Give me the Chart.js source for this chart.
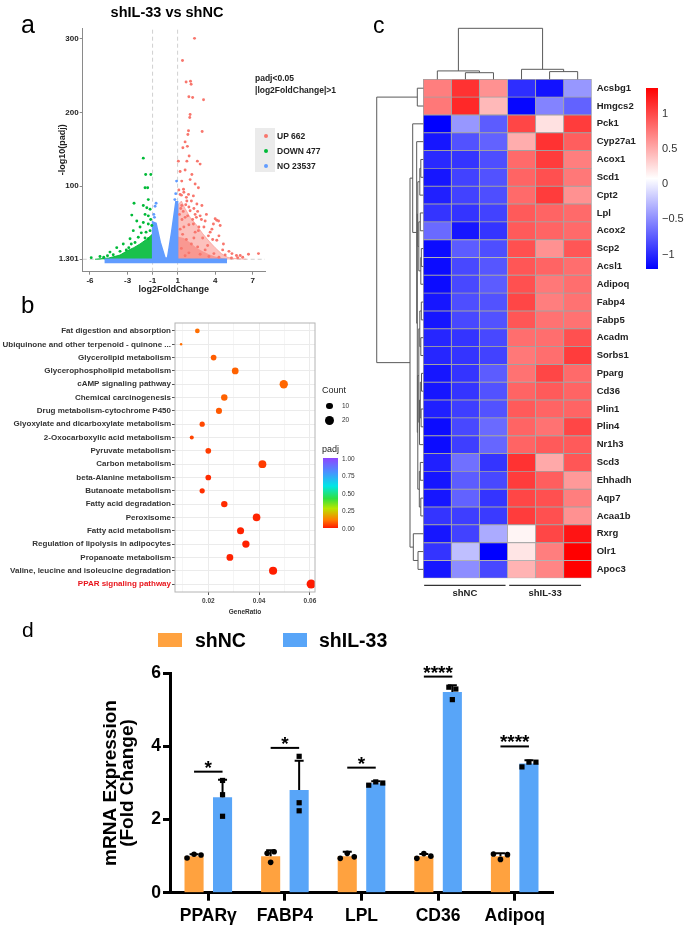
<!DOCTYPE html>
<html>
<head>
<meta charset="utf-8">
<title>shIL-33 vs shNC</title>
<script src="https://cdn.jsdelivr.net/npm/chart.js@4.4.1/dist/chart.umd.min.js"></script>
<style>
  html, body { margin: 0; padding: 0; background: #fff; }
  body { position: relative; width: 685px; height: 933px; overflow: hidden;
         font-family: "Liberation Sans", Arial, sans-serif; }
  canvas { position: absolute; }
  .lbl { position: absolute; white-space: nowrap; z-index: 5; }
  .sw { position: absolute; z-index: 5; }
</style>
</head>
<body>
<canvas id="chartVolcano" width="330" height="300" style="left:0;top:0"></canvas>
<canvas id="chartKegg" width="330" height="320" style="left:0;top:300px"></canvas>
<canvas id="chartHeat" width="355" height="600" style="left:330px;top:0"></canvas>
<canvas id="chartBars" width="685" height="333" style="left:0;top:600px"></canvas>
<script>
// ============================================================
//  Figura: volcano (a) + KEGG dot plot (b) + heatmap (c) + qPCR (d)
// ============================================================

Chart.defaults.font.family = '"Liberation Sans", Arial, sans-serif';
Chart.defaults.color = '#222';
Chart.defaults.animation = false;
Chart.defaults.plugins.legend.display = false;
Chart.defaults.plugins.tooltip.enabled = false;

// ── a: volcano ──
const volcanoXTicks = [-6, -3, -1, 1, 4, 7];
const volcanoYTicks = [1.301, 100, 200, 300];
const volcanoXRange = [-6.58, 7.98];
const volcanoYRange = [-15.5, 314];
const fcCutoff = 1;
const padjCutoff = 1.301;
const deCategories = ['UP', 'DOWN', 'NO'];
const deCounts = [662, 477, 23537];

const upGenes = [
  [2.35, 300], [1.39, 270], [1.68, 241], [2.03, 242], [2.08, 238], [1.9, 221], [2.2, 220], [3.07, 217],
  [2.0, 197], [1.97, 193], [1.87, 175], [1.82, 170], [2.96, 174], [1.6, 160], [1.42, 152], [1.78, 154],
  [1.92, 141], [1.74, 134], [1.06, 134], [2.58, 134], [2.8, 130], [1.2, 120], [1.6, 122], [2.14, 116],
  [1.33, 107], [2.0, 109], [2.4, 103], [2.66, 98], [1.47, 96], [1.2, 89], [1.87, 89], [2.26, 87],
  [1.74, 80], [2.54, 76], [2.94, 74], [1.33, 74], [2.0, 67], [2.4, 62], [2.8, 60], [3.2, 53],
  [4.13, 54], [3.86, 49], [4.4, 47], [3.74, 42], [1.6, 58], [2.26, 49], [2.66, 40], [3.46, 33],
  [4.13, 27], [4.66, 22], [5.34, 9], [6.0, 6.5], [6.66, 8], [7.46, 9], [4.0, 56], [4.27, 53], [5.7, 6.4],
  [1.1, 95], [1.3, 88], [1.5, 92], [1.7, 85], [1.25, 70], [1.45, 66], [1.65, 75], [1.9, 72],
  [2.1, 80], [2.3, 70], [2.6, 66], [1.15, 62], [1.35, 55], [1.8, 60], [2.2, 55], [2.5, 58],
  [2.9, 55], [3.3, 62], [1.5, 45], [1.9, 48], [2.7, 45], [3.1, 45], [3.6, 38], [4.3, 33],
  [1.2, 42], [2.4, 38], [3.0, 30], [3.8, 28], [4.6, 14], [5.8, 3.5], [6.2, 4], [5.1, 12],
  [1.4, 35], [1.7, 28], [2.1, 22], [2.6, 18], [3.2, 14], [3.9, 9], [1.3, 16], [1.9, 10],
  [2.8, 8], [3.5, 5], [4.3, 4], [1.6, 6], [2.3, 30], [3.4, 20], [4.8, 7], [5.3, 3],
];
const downGenes = [
  [-1.74, 138], [-1.55, 116], [-1.14, 116], [-1.6, 98], [-1.39, 98], [-1.34, 82], [-2.48, 77],
  [-1.74, 74], [-1.46, 71], [-1.2, 69], [-2.66, 61], [-1.6, 62], [-1.34, 60], [-2.26, 53],
  [-1.74, 51], [-1.34, 49], [-1.06, 47], [-2.0, 45], [-2.54, 40], [-1.52, 38], [-2.14, 31],
  [-2.8, 29], [-1.34, 29], [-3.34, 22], [-2.4, 24], [-3.86, 17], [-4.4, 11], [-5.2, 5],
  [-5.9, 3.5], [-4.14, 7.4], [-1.2, 40], [-1.6, 30], [-2.9, 17], [-3.6, 12], [-1.9, 37],
  [-2.7, 22], [-1.15, 55], [-4.9, 4], [-4.6, 6], [-3.1, 14],
];
const noGenes = [[-0.72, 77], [-0.8, 73], [-0.9, 62], [-0.85, 58], [0.92, 107], [0.85, 90], [0.78, 82]];

// contornos de las nubes densas (miles de puntos solapados)
const noDenseOutline = [[-4.85, 1.5], [-1, 1.5], [-1, 52], [-0.72, 50], [-0.38, 24], [0, 3], [0.19, 3],
  [0.52, 38], [0.86, 79], [1, 79], [1, 1.5], [4.95, 1.5]];
const downDenseOutline = [[-5.6, 1.3], [-4.5, 3], [-3.6, 7], [-3, 13], [-2.5, 17], [-2, 22], [-1.5, 28],
  [-1.02, 35], [-1.02, 1.3]];
const upDenseOutline = [[1.02, 1.3], [1.02, 75], [1.3, 80], [1.6, 70], [2, 58], [2.5, 48], [3, 36],
  [3.5, 26], [4, 17], [4.5, 9], [5, 4], [5.5, 2.5], [6.5, 1.5]];
const upCoreOutline = [[1.02, 1.3], [1.02, 32], [1.5, 30], [2, 24], [2.5, 17], [3, 12], [3.5, 8],
  [4, 5], [4.7, 2.5], [5.2, 1.3]];

// ── b: KEGG ──
const pathways = [
  'Fat digestion and absorption', 'Ubiquinone and other terpenoid - quinone ...', 'Glycerolipid metabolism',
  'Glycerophospholipid metabolism', 'cAMP signaling pathway', 'Chemical carcinogenesis',
  'Drug metabolism-cytochrome P450', 'Glyoxylate and dicarboxylate metabolism', '2-Oxocarboxylic acid metabolism',
  'Pyruvate metabolism', 'Carbon metabolism', 'beta-Alanine metabolism', 'Butanoate metabolism',
  'Fatty acid degradation', 'Peroxisome', 'Fatty acid metabolism', 'Regulation of lipolysis in adipocytes',
  'Propanoate metabolism', 'Valine, leucine and isoleucine degradation', 'PPAR signaling pathway',
];
const geneRatio = [0.0157, 0.0093, 0.0221, 0.0306, 0.0497, 0.0263, 0.0242, 0.0176, 0.0135, 0.0200,
  0.0413, 0.0200, 0.0176, 0.0263, 0.0390, 0.0327, 0.0348, 0.0285, 0.0455, 0.0605];
const geneCount = [5, 3, 7, 10, 16, 9, 8, 6, 4, 7, 14, 7, 6, 9, 13, 11, 12, 10, 15, 20];
const pathwayPadj = [0.1, 0.1, 0.08, 0.085, 0.09, 0.085, 0.075, 0.055, 0.05, 0.04,
  0.04, 0.02, 0.025, 0.02, 0.012, 0.01, 0.008, 0.01, 0.005, 0.001];
const ratioTicks = [0.01, 0.02, 0.03, 0.04, 0.05, 0.06];
const countLegend = [10, 20];
const padjTicks = [1.0, 0.75, 0.5, 0.25, 0.0];
const padjStops = [[0, '#FF1A00'], [0.12, '#FF7F00'], [0.28, '#B8E600'], [0.42, '#30E040'],
  [0.6, '#00E6E6'], [0.8, '#4A90FF'], [1, '#8F45FF']];

// ── c: heatmap ──
const genes = ['Acsbg1', 'Hmgcs2', 'Pck1', 'Cyp27a1', 'Acox1', 'Scd1', 'Cpt2', 'Lpl', 'Acox2', 'Scp2',
  'Acsl1', 'Adipoq', 'Fabp4', 'Fabp5', 'Acadm', 'Sorbs1', 'Pparg', 'Cd36', 'Plin1', 'Plin4', 'Nr1h3',
  'Scd3', 'Ehhadh', 'Aqp7', 'Acaa1b', 'Rxrg', 'Olr1', 'Apoc3'];
const sampleGroups = ['shNC', 'shIL-33'];
const groupSpans = [[0.03, 2.93], [3.06, 5.62]];
const heatValues = [
  [0.72, 1.10, 0.62, -0.98, -1.12, -0.45],
  [0.75, 1.15, 0.42, -1.18, -0.55, -0.72],
  [-1.21, -0.45, -0.75, 1.00, 0.22, 1.05],
  [-1.10, -0.80, -0.72, 0.48, 1.10, 0.88],
  [-1.00, -0.95, -0.82, 0.82, 1.05, 0.72],
  [-1.10, -0.88, -0.80, 0.85, 0.95, 0.75],
  [-1.05, -0.88, -0.82, 0.82, 1.05, 0.62],
  [-0.95, -0.95, -0.88, 0.90, 0.85, 0.82],
  [-0.68, -1.10, -0.95, 0.90, 0.85, 0.82],
  [-1.15, -0.75, -0.82, 0.95, 0.62, 0.92],
  [-1.15, -0.85, -0.78, 0.92, 0.85, 0.80],
  [-1.15, -0.85, -0.75, 0.95, 0.75, 0.80],
  [-1.10, -0.82, -0.80, 1.00, 0.72, 0.78],
  [-1.10, -0.85, -0.80, 0.92, 0.78, 0.78],
  [-1.02, -0.95, -0.85, 0.80, 0.80, 0.95],
  [-1.02, -0.95, -0.88, 0.75, 0.80, 1.05],
  [-1.10, -0.95, -0.75, 0.78, 1.00, 0.82],
  [-1.10, -0.95, -0.80, 0.85, 0.90, 0.85],
  [-1.05, -0.90, -0.80, 0.90, 0.85, 0.85],
  [-1.15, -0.85, -0.68, 0.85, 0.78, 1.00],
  [-1.15, -0.90, -0.70, 0.85, 0.90, 0.90],
  [-1.05, -0.65, -0.95, 1.10, 0.50, 0.92],
  [-1.10, -0.75, -0.85, 1.05, 0.88, 0.58],
  [-1.10, -0.72, -0.95, 1.00, 0.95, 0.72],
  [-0.95, -0.90, -0.92, 1.05, 0.95, 0.62],
  [-1.10, -0.88, -0.35, 0.12, 1.00, 1.25],
  [-0.95, -0.25, -1.21, 0.20, 0.72, 1.35],
  [-1.10, -0.50, -0.85, 0.45, 0.68, 1.35],
];
const heatRange = [-1.21, 1.35];
const heatTicks = [1, 0.5, 0, -0.5, -1];
// linkage estilo hclust: [hijoA, hijoB, altura]; índices >= n son nodos previos
const colLinkage = [[1, 2, 0.37], [0, 6, 0.47], [4, 5, 0.43], [3, 8, 0.56], [7, 9, 2.86]];
const rowLinkage = [
  [4, 5, 0.089], [6, 28, 0.125], [7, 8, 0.107], [9, 10, 0.071], [31, 11, 0.089], [30, 32, 0.16],
  [29, 33, 0.196], [12, 13, 0.071], [14, 15, 0.089], [35, 36, 0.125], [16, 17, 0.064], [18, 19, 0.078],
  [38, 39, 0.107], [20, 40, 0.135], [37, 41, 0.16], [21, 22, 0.107], [23, 24, 0.089], [43, 44, 0.142],
  [42, 45, 0.196], [34, 46, 0.214], [3, 47, 0.236], [2, 48, 0.378], [26, 27, 0.189], [25, 50, 0.356],
  [49, 51, 0.474], [0, 1, 0.214], [53, 52, 1.66],
];

// ── d: qPCR ──
const targetGenes = ['PPARγ', 'FABP4', 'LPL', 'CD36', 'Adipoq'];
const shNCMean = [1.0, 1.0, 1.0, 1.0, 1.0];
const shNCSd = [0.05, 0.16, 0.12, 0.06, 0.08];
const shIL33Mean = [2.61, 2.81, 2.99, 5.49, 3.53];
const shIL33Sd = [0.48, 0.8, 0.06, 0.18, 0.09];
const shNCReps = [[0.95, 1.05, 1.03], [1.08, 0.83, 1.12], [0.94, 1.08, 0.98], [0.94, 1.07, 1.0], [1.06, 0.91, 1.04]];
const shIL33Reps = [[2.68, 2.09, 3.07], [3.73, 2.46, 2.24], [2.94, 3.03, 3.0], [5.62, 5.28, 5.57], [3.44, 3.57, 3.57]];
const sigY = [3.31, 3.96, 3.42, 5.91, 4.0];
const sigMarks = ['*', '*', '*', '****', '****'];

const COL_UP = '#F8766D';
const COL_DOWN = '#00BA38';
const COL_NO = '#619CFF';
const COL_NC = '#FFA23F';
const COL_IL33 = '#58A5F8';

// ── helpers ──
function pts(list) {
    return list.map(([x, y]) => ({ x, y }));
}

function hexToRgb(h) {
    const n = parseInt(h.slice(1), 16);
    return [n >> 16, (n >> 8) & 255, n & 255];
}

function padjColor(p) {
    for (let i = 1; i < padjStops.length; i++) {
        const [v0, c0] = padjStops[i - 1];
        const [v1, c1] = padjStops[i];
        if (p <= v1) {
            const t = (p - v0) / (v1 - v0);
            const a = hexToRgb(c0), b = hexToRgb(c1);
            return `rgb(${a.map((x, k) => Math.round(x + (b[k] - x) * t)).join(',')})`;
        }
    }
    return padjStops[padjStops.length - 1][1];
}

function heatColor(v) {
    const t = Math.min(1, Math.max(0, (v - heatRange[0]) / (heatRange[1] - heatRange[0])));
    if (t < 0.5) {
        const g = Math.round(510 * t);
        return `rgb(${g},${g},255)`;
    }
    const g = Math.round(510 * (1 - t));
    return `rgb(255,${g},${g})`;
}

function bubbleRadius(c) {
    const lo = Math.min(...geneCount), hi = Math.max(...geneCount);
    return 1.2 + 3.4 * Math.sqrt((c - lo) / (hi - lo));
}

// texto HTML posicionado por línea base
function addText(txt, x, baseline, size, opts = {}) {
    const el = document.createElement('div');
    el.className = 'lbl';
    el.textContent = txt;
    el.style.fontSize = size + 'px';
    el.style.lineHeight = size + 'px';
    el.style.top = (baseline - 0.85 * size) + 'px';
    el.style.left = x + 'px';
    el.style.fontWeight = opts.bold ? 'bold' : 'normal';
    el.style.color = opts.color || '#000';
    if (opts.align === 'center') el.style.transform = 'translateX(-50%)';
    document.body.appendChild(el);
    return el;
}

function addSwatch(x, y, w, h, bg, round) {
    const el = document.createElement('div');
    el.className = 'sw';
    Object.assign(el.style, { left: x + 'px', top: y + 'px', width: w + 'px', height: h + 'px', background: bg });
    if (round) el.style.borderRadius = '50%';
    document.body.appendChild(el);
}

function dendroNodes(nLeaves, linkage) {
    const pos = [], hgt = [];
    for (let i = 0; i < nLeaves; i++) { pos.push(i + 0.5); hgt.push(0); }
    linkage.forEach(([a, b, h]) => { pos.push((pos[a] + pos[b]) / 2); hgt.push(h); });
    return { pos, hgt };
}

// ============================================================
//  a — volcano
// ============================================================
const axisGrey = '#8A8A8A';
const tickFontA = { size: 8, weight: 'bold' };

new Chart(document.getElementById('chartVolcano'), {
    type: 'scatter',
    data: {
        datasets: [
            { data: pts(upGenes), backgroundColor: COL_UP, pointRadius: 1.45, borderWidth: 0, order: 1 },
            { data: pts(downGenes), backgroundColor: COL_DOWN, pointRadius: 1.45, borderWidth: 0, order: 1 },
            { data: pts(noGenes), backgroundColor: COL_NO, pointRadius: 1.45, borderWidth: 0, order: 1 },
            { type: 'line', data: pts(noDenseOutline), fill: { value: -4 }, backgroundColor: COL_NO,
              borderColor: COL_NO, borderWidth: 1.5, pointRadius: 0, order: 2 },
            { type: 'line', data: pts(upCoreOutline), fill: { value: padjCutoff }, backgroundColor: 'rgba(248,118,109,0.55)',
              borderColor: 'rgba(248,118,109,0)', borderWidth: 0, pointRadius: 0, order: 3 },
            { type: 'line', data: pts(upDenseOutline), fill: { value: padjCutoff }, backgroundColor: 'rgba(248,118,109,0.45)',
              borderColor: 'rgba(248,118,109,0.45)', borderWidth: 1, pointRadius: 0, order: 4 },
            { type: 'line', data: pts(downDenseOutline), fill: { value: padjCutoff }, backgroundColor: 'rgba(0,186,56,0.9)',
              borderColor: 'rgba(0,186,56,0.9)', borderWidth: 1, pointRadius: 0, order: 3 },
            { type: 'line', data: [{ x: -fcCutoff, y: volcanoYRange[0] }, { x: -fcCutoff, y: volcanoYRange[1] }],
              borderColor: '#C4C4C4', borderDash: [4, 3], borderWidth: 0.8, pointRadius: 0, fill: false, order: 5 },
            { type: 'line', data: [{ x: fcCutoff, y: volcanoYRange[0] }, { x: fcCutoff, y: volcanoYRange[1] }],
              borderColor: '#C4C4C4', borderDash: [4, 3], borderWidth: 0.8, pointRadius: 0, fill: false, order: 5 },
            { type: 'line', data: [{ x: volcanoXRange[0], y: padjCutoff }, { x: volcanoXRange[1], y: padjCutoff }],
              borderColor: '#C4C4C4', borderDash: [4, 3], borderWidth: 0.8, pointRadius: 0, fill: false, order: 5 },
        ],
    },
    options: {
        responsive: false,
        layout: { padding: { top: 28, right: 65, left: 0, bottom: 0 } },
        scales: {
            x: {
                type: 'linear', min: volcanoXRange[0], max: volcanoXRange[1],
                afterBuildTicks: s => { s.ticks = volcanoXTicks.map(v => ({ value: v })); },
                ticks: { font: tickFontA, color: '#222', padding: 1, callback: v => String(v) },
                grid: { display: true, drawOnChartArea: false, tickLength: 3, tickColor: axisGrey },
                border: { color: axisGrey },
                title: { display: true, text: 'log2FoldChange', font: { size: 9, weight: 'bold' }, color: '#222',
                         padding: { top: 0, bottom: 5 } },
                afterFit: s => { s.height = 28.3; },
            },
            y: {
                type: 'linear', min: volcanoYRange[0], max: volcanoYRange[1],
                afterBuildTicks: s => { s.ticks = volcanoYTicks.map(v => ({ value: v })); },
                ticks: { font: tickFontA, color: '#222', padding: 1, callback: v => String(v) },
                grid: { display: true, drawOnChartArea: false, tickLength: 3, tickColor: axisGrey },
                border: { color: axisGrey },
                title: { display: true, text: '-log10(padj)', font: { size: 9, weight: 'bold' }, color: '#222',
                         padding: { top: 57, bottom: 0 } },
                afterFit: s => { s.width = 82.7; },
            },
        },
    },
});

// ============================================================
//  b — KEGG dot plot
// ============================================================
const panelBorder = {
    id: 'panelBorder',
    afterDatasetsDraw(chart) {
        const { ctx, chartArea: a } = chart;
        ctx.save();
        ctx.strokeStyle = '#B4B4B4';
        ctx.lineWidth = 1;
        ctx.strokeRect(a.left, a.top, a.right - a.left, a.bottom - a.top);
        ctx.restore();
    },
};

new Chart(document.getElementById('chartKegg'), {
    type: 'bubble',
    data: {
        datasets: [{
            data: pathways.map((p, i) => ({ x: geneRatio[i], y: i, r: bubbleRadius(geneCount[i]) })),
            backgroundColor: pathwayPadj.map(padjColor),
            borderWidth: 0,
        }],
    },
    options: {
        responsive: false,
        layout: { padding: { top: 23, right: 15, left: 0, bottom: 0 } },
        scales: {
            x: {
                type: 'linear', min: 0.0069, max: 0.062,
                afterBuildTicks: s => { s.ticks = ratioTicks.map(v => ({ value: v })); },
                ticks: {
                    font: { size: 6.5, weight: 'bold' }, color: '#444', padding: 2,
                    callback: v => (Math.round(v * 100) % 2 === 0 ? v.toFixed(2) : ''),
                },
                grid: {
                    color: c => (Math.round(c.tick.value * 100) % 2 === 0 ? '#EBEBEB' : '#F5F5F5'),
                    tickColor: c => (Math.round(c.tick.value * 100) % 2 === 0 ? '#555' : 'rgba(0,0,0,0)'),
                    tickLength: 3,
                },
                border: { display: false },
                title: { display: true, text: 'GeneRatio', font: { size: 6.5, weight: 'bold' }, color: '#333',
                         padding: { top: 0, bottom: 4 } },
                afterFit: s => { s.height = 28; },
            },
            y: {
                type: 'linear', min: -0.6, max: 19.6, reverse: true,
                afterBuildTicks: s => { s.ticks = pathways.map((p, i) => ({ value: i })); },
                ticks: {
                    font: { size: 8, weight: 'bold' }, padding: 1, autoSkip: false,
                    color: c => (c.index === pathways.length - 1 ? '#E8141B' : '#333'),
                    callback: v => pathways[Math.round(v)],
                },
                grid: { color: '#EBEBEB', tickColor: '#555', tickLength: 3 },
                border: { display: false },
                afterFit: s => { s.width = 175; },
            },
        },
    },
    plugins: [panelBorder],
});

// ============================================================
//  c — heatmap + dendrogramas
// ============================================================
const dendroPlugin = {
    id: 'dendro',
    afterDatasetsDraw(chart) {
        const { ctx, scales: { x, y }, chartArea } = chart;
        ctx.save();
        ctx.strokeStyle = '#5A5A5A';
        ctx.lineWidth = 1;
        const seg = (x0, y0, x1, y1) => {
            ctx.beginPath(); ctx.moveTo(x0, y0); ctx.lineTo(x1, y1); ctx.stroke();
        };
        // filas: altura hacia la izquierda
        const r = dendroNodes(genes.length, rowLinkage);
        rowLinkage.forEach(([a, b, h]) => {
            const xh = x.getPixelForValue(-h);
            const ya = y.getPixelForValue(r.pos[a]), yb = y.getPixelForValue(r.pos[b]);
            seg(x.getPixelForValue(-r.hgt[a]), ya, xh, ya);
            seg(x.getPixelForValue(-r.hgt[b]), yb, xh, yb);
            seg(xh, ya, xh, yb);
        });
        // columnas: altura hacia arriba
        const c = dendroNodes(heatValues[0].length, colLinkage);
        colLinkage.forEach(([a, b, h]) => {
            const yh = y.getPixelForValue(-h);
            const xa = x.getPixelForValue(c.pos[a]), xb = x.getPixelForValue(c.pos[b]);
            seg(xa, y.getPixelForValue(-c.hgt[a]), xa, yh);
            seg(xb, y.getPixelForValue(-c.hgt[b]), xb, yh);
            seg(xa, yh, xb, yh);
        });
        // barras de grupo bajo el heatmap
        ctx.strokeStyle = '#333';
        ctx.lineWidth = 1.2;
        groupSpans.forEach(([s0, s1]) => {
            seg(x.getPixelForValue(s0), chartArea.bottom + 7, x.getPixelForValue(s1), chartArea.bottom + 7);
        });
        ctx.restore();
    },
};

new Chart(document.getElementById('chartHeat'), {
    type: 'bar',
    data: {
        datasets: heatValues[0].map((_, c) => ({
            data: genes.map((g, r) => ({ x: [c, c + 1], y: r + 0.5 })),
            backgroundColor: genes.map((g, r) => heatColor(heatValues[r][c])),
            borderColor: '#A2A2A2',
            borderWidth: 0.8,
            borderSkipped: false,
            grouped: false,
            barPercentage: 1,
            categoryPercentage: 1,
        })),
    },
    options: {
        responsive: false,
        indexAxis: 'y',
        layout: { padding: { top: 27.6, left: 45.6, right: 0, bottom: 0 } },
        scales: {
            x: {
                type: 'linear', min: -1.7, max: 6, position: 'bottom',
                afterBuildTicks: s => { s.ticks = groupSpans.map(sp => ({ value: (sp[0] + sp[1]) / 2 })); },
                ticks: { callback: (v, i) => sampleGroups[i], font: { size: 9.5, weight: 'bold' }, color: '#222',
                         padding: 9, maxRotation: 0, autoSkip: false },
                grid: { display: false, drawTicks: false },
                border: { display: false },
                afterFit: s => { s.height = 21.7; },
            },
            y: {
                type: 'linear', min: -2.9, max: 28, reverse: true, position: 'right', offset: false,
                afterBuildTicks: s => { s.ticks = genes.map((g, i) => ({ value: i + 0.5 })); },
                ticks: { callback: (v, i) => genes[i], font: { size: 9.5, weight: 'bold' }, color: '#222',
                         padding: 5, autoSkip: false },
                grid: { display: false, drawTicks: false },
                border: { display: false },
                afterFit: s => { s.width = 93.3; },
            },
        },
    },
    plugins: [dendroPlugin],
});

// ============================================================
//  d — qPCR barras + error + réplicas + significancia
// ============================================================
function spreadOffsets(values, gap, step) {
    return values.map((v, i) => {
        const members = values.map((w, k) => k).filter(k => Math.abs(values[k] - v) < gap);
        const rank = members.indexOf(i);
        return (rank - (members.length - 1) / 2) * step;
    });
}

const barExtras = {
    id: 'barExtras',
    afterDatasetsDraw(chart) {
        const { ctx, scales: { y } } = chart;
        const groups = [
            { mean: shNCMean, sd: shNCSd, reps: shNCReps, square: false },
            { mean: shIL33Mean, sd: shIL33Sd, reps: shIL33Reps, square: true },
        ];
        ctx.save();
        ctx.strokeStyle = '#000';
        ctx.fillStyle = '#000';
        groups.forEach((g, d) => {
            const meta = chart.getDatasetMeta(d);
            meta.data.forEach((bar, j) => {
                const yMean = y.getPixelForValue(g.mean[j]);
                const yTop = y.getPixelForValue(g.mean[j] + g.sd[j]);
                ctx.lineWidth = 2;
                ctx.beginPath();
                ctx.moveTo(bar.x, yMean); ctx.lineTo(bar.x, yTop);
                ctx.moveTo(bar.x - 4.5, yTop); ctx.lineTo(bar.x + 4.5, yTop);
                ctx.stroke();
                const offs = spreadOffsets(g.reps[j], 0.2, 7);
                g.reps[j].forEach((v, k) => {
                    const px = bar.x + offs[k], py = y.getPixelForValue(v);
                    if (g.square) {
                        ctx.fillRect(px - 2.6, py - 2.6, 5.2, 5.2);
                    } else {
                        ctx.beginPath(); ctx.arc(px, py, 2.8, 0, Math.PI * 2); ctx.fill();
                    }
                });
            });
        });
        const m0 = chart.getDatasetMeta(0), m1 = chart.getDatasetMeta(1);
        ctx.font = 'bold 19px "Liberation Sans", Arial, sans-serif';
        ctx.textAlign = 'center';
        ctx.textBaseline = 'alphabetic';
        sigY.forEach((v, j) => {
            const x0 = m0.data[j].x, x1 = m1.data[j].x, py = y.getPixelForValue(v);
            ctx.lineWidth = 2;
            ctx.beginPath(); ctx.moveTo(x0, py); ctx.lineTo(x1, py); ctx.stroke();
            ctx.fillText(sigMarks[j], (x0 + x1) / 2, py + 2);
        });
        ctx.restore();
    },
};

const tickFontD = { size: 17.5, weight: 'bold' };

new Chart(document.getElementById('chartBars'), {
    type: 'bar',
    data: {
        labels: targetGenes,
        datasets: [
            { label: 'shNC', data: shNCMean, backgroundColor: COL_NC, categoryPercentage: 0.744, barPercentage: 0.67 },
            { label: 'shIL-33', data: shIL33Mean, backgroundColor: COL_IL33, categoryPercentage: 0.744, barPercentage: 0.67 },
        ],
    },
    options: {
        responsive: false,
        layout: { padding: { left: 90, top: 73.3, right: 132, bottom: 0 } },
        scales: {
            x: {
                grid: { display: true, drawOnChartArea: false, offset: false, tickLength: 8, tickWidth: 3, tickColor: '#000' },
                border: { color: '#000', width: 3 },
                ticks: { font: tickFontD, color: '#000', padding: 5, maxRotation: 0 },
                afterFit: s => { s.height = 40.3; },
            },
            y: {
                min: 0, max: 6,
                ticks: { stepSize: 2, font: tickFontD, color: '#000', padding: 2 },
                grid: { display: true, drawOnChartArea: false, tickLength: 7, tickWidth: 3, tickColor: '#000' },
                border: { color: '#000', width: 3 },
                title: { display: true, text: ['mRNA Expression', '(Fold Change)'], color: '#000',
                         font: { size: 19, weight: 'bold', lineHeight: 0.9 }, padding: { top: 12, bottom: 0 } },
                afterFit: s => { s.width = 80; },
            },
        },
    },
    plugins: [barExtras],
});

// ============================================================
//  Textos y leyendas (HTML)
// ============================================================
// a
addText('a', 21, 33, 25);
addText('shIL-33 vs shNC', 167, 17, 14.5, { bold: true, align: 'center' });
addText('padj<0.05', 255, 81, 8.5, { bold: true, color: '#222' });
addText('|log2FoldChange|>1', 255, 93, 8.5, { bold: true, color: '#222' });
addSwatch(255, 128, 20, 44, '#EBEBEB');
[COL_UP, COL_DOWN, COL_NO].forEach((col, i) => {
    addSwatch(263.7, 134 + i * 15, 4, 4, col, true);
    addText(`${deCategories[i]} ${deCounts[i]}`, 277, 139 + i * 15, 8.5, { bold: true, color: '#222' });
});

// b
addText('b', 21, 313, 24);
addText('Count', 322, 394, 9, { color: '#222' });
countLegend.forEach((c, i) => {
    const rr = bubbleRadius(c);
    const cy = 406 + i * 14.5;
    addSwatch(329.7 - rr, cy - rr, rr * 2, rr * 2, '#000', true);
    addText(String(c), 342, cy + 2.3, 6.5, { color: '#333' });
});
addText('padj', 322, 453, 9, { color: '#222' });
addSwatch(323, 458, 15, 70,
    'linear-gradient(to top, ' + padjStops.map(s => `${s[1]} ${s[0] * 100}%`).join(', ') + ')');
padjTicks.forEach(v => {
    addText(v.toFixed(2), 342, 459 + (1 - v) * 70 + 2.3, 6.5, { color: '#333' });
});

// c
addText('c', 373, 33.3, 23);
addSwatch(646, 88.3, 12, 180.7, 'linear-gradient(to bottom, #FF0000, #FFFFFF, #0000FF)');
heatTicks.forEach(v => {
    const cy = 88.3 + (heatRange[1] - v) / (heatRange[1] - heatRange[0]) * 180.7;
    addText(v < 0 ? '\u2212' + Math.abs(v) : String(v), 662, cy + 3.9, 11, { color: '#333' });
});

// d
addText('d', 22, 637, 21);
addSwatch(158, 633, 24, 14, COL_NC);
addText('shNC', 195, 648, 19.5, { bold: true });
addSwatch(283, 633, 24, 14, COL_IL33);
addText('shIL-33', 319, 648, 19.5, { bold: true });
</script>
</body>
</html>
